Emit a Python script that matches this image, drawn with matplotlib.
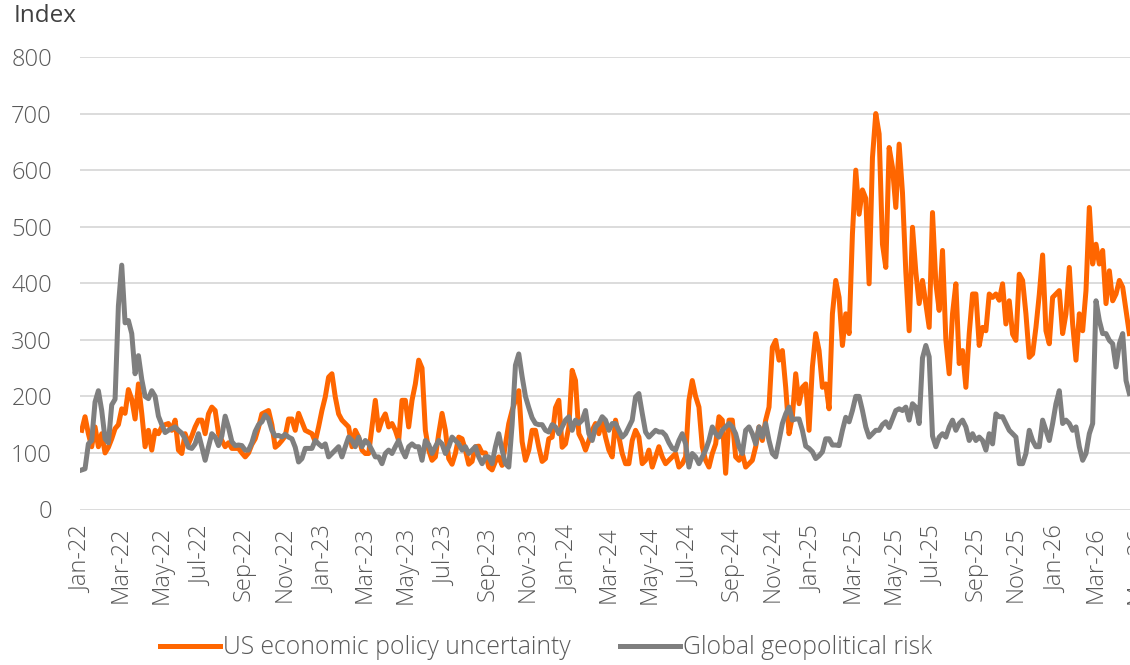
import matplotlib
matplotlib.use("Agg")
import matplotlib.pyplot as plt
import pandas as pd

# 5-day samples, 1 Jan 2022 onwards
EPU_A = [140, 164, 134, 111, 146, 111, 134, 100, 110, 125, 143, 150, 178, 170, 212, 195, 160,
         222, 170, 111, 140, 105, 140, 134, 146, 150, 152, 140, 158, 105, 99, 134, 116, 130]
EPU_B = [146, 158, 158, 134, 169, 181, 175, 135, 122, 111, 118, 108, 108, 108, 100, 93, 100, 115,
         125, 145, 169, 172, 175, 150, 110, 115, 122, 130, 160, 160, 140, 170, 155, 140, 137, 134]
EPU_C = [120, 146, 175, 199, 234, 240, 199, 169, 158, 152, 146, 111, 140, 128, 105, 99, 99, 146,
         193, 140, 158, 169, 146, 152, 140, 122, 193, 193, 146, 193, 222, 264, 250, 140, 105, 87]
EPU_D = [93, 134, 170, 140, 90, 80, 99, 128, 125, 105, 80, 85, 111, 112, 100, 100, 75, 70,
         85, 93, 78, 115, 152, 175, 193, 210, 120, 87, 105, 140, 140, 110, 85, 90, 125, 128]
EPU_E = [180, 193, 110, 116, 146, 246, 228, 134, 122, 105, 122, 140, 152, 134, 158, 128, 105, 93,
         158, 128, 99, 81, 81, 122, 140, 128, 81, 87, 105, 75, 93, 111, 93, 81, 87, 93]
EPU_F = [99, 75, 81, 93, 193, 228, 200, 181, 111, 87, 75, 99, 116, 164, 158, 64, 158, 158,
         93, 87, 99, 75, 81, 87, 111, 146, 122, 158, 181, 287, 299, 264, 281, 216, 134, 164]
EPU_G = [240, 187, 216, 222, 140, 252, 311, 281, 216, 222, 178, 346, 405, 375, 290, 346, 311,
         487, 600, 522, 565, 550, 399, 622, 700, 664, 469, 428, 640, 605, 534, 646, 560]
EPU_H = [420, 316, 499, 420, 364, 405, 364, 322, 525, 400, 352, 458, 300, 240, 346, 399, 258,
         281, 216, 311, 381, 381, 290, 322, 316, 381, 375, 381, 370, 399, 328, 369, 310]
EPU_I = [299, 416, 405, 346, 269, 275, 322, 380, 450, 316, 293, 375, 381, 387, 311, 346, 428,
         328, 264, 346, 316, 387, 534, 434, 469, 434, 458, 364, 422, 369, 381, 405, 393, 352, 311]

GPR_A = [70, 72, 116, 122, 190, 210, 175, 125, 118, 185, 195, 360, 432, 330, 334, 311, 240,
         272, 230, 200, 196, 210, 200, 165, 150, 136, 140, 143, 146, 140, 135, 125, 110, 108]
GPR_B = [116, 134, 111, 87, 111, 134, 128, 113, 130, 165, 145, 120, 113, 114, 113, 105, 105, 118,
         138, 150, 155, 167, 160, 140, 130, 131, 128, 133, 128, 125, 110, 84, 90, 108, 108, 108]
GPR_C = [122, 116, 111, 116, 93, 99, 105, 111, 93, 111, 128, 122, 111, 128, 111, 122, 116, 105,
         93, 93, 81, 99, 105, 99, 111, 122, 105, 93, 111, 116, 111, 111, 87, 122, 115, 99]
GPR_D = [111, 122, 116, 99, 111, 128, 122, 116, 105, 111, 99, 105, 111, 93, 81, 93, 93, 81,
         111, 134, 105, 81, 75, 150, 255, 275, 235, 200, 180, 162, 152, 150, 150, 140, 137, 150]
GPR_E = [146, 134, 146, 158, 164, 140, 158, 152, 158, 175, 134, 122, 146, 152, 164, 158, 140, 152,
         152, 140, 128, 134, 146, 158, 199, 205, 170, 137, 128, 134, 140, 137, 137, 131, 118, 108]
GPR_F = [105, 122, 134, 116, 75, 99, 93, 81, 93, 105, 122, 146, 134, 128, 140, 146, 152, 146,
         134, 111, 99, 140, 146, 134, 116, 146, 128, 152, 122, 99, 93, 122, 152, 169, 181, 158]
GPR_G = [160, 160, 140, 112, 108, 102, 90, 95, 102, 125, 125, 114, 114, 113, 140, 163, 155,
         175, 200, 200, 175, 146, 128, 134, 140, 140, 150, 155, 145, 160, 175, 178, 175]
GPR_H = [181, 158, 187, 181, 152, 268, 290, 270, 130, 111, 128, 134, 128, 146, 158, 140, 152,
         158, 146, 122, 134, 122, 128, 122, 105, 134, 116, 169, 164, 164, 152, 140, 134]
GPR_I = [128, 81, 81, 99, 140, 122, 111, 111, 158, 140, 122, 152, 187, 210, 152, 158, 152,
         140, 146, 111, 87, 99, 134, 152, 369, 334, 311, 311, 299, 293, 252, 293, 311, 228, 205]

SERIES_NAMES = ["US economic policy uncertainty", "Global geopolitical risk"]
Y_TICKS = [0, 100, 200, 300, 400, 500, 600, 700, 800]

ORANGE = "#ff6600"
GREY = "#7f7f7f"
TEXT = "#595959"

W, H = 1130, 665
PX_PER_DAY = 0.6673   # horizontal scale of the reference
X0_PX = 81.7          # pixel column of 1 Jan 2022


def main() -> None:
    epu = EPU_A + EPU_B + EPU_C + EPU_D + EPU_E + EPU_F + EPU_G + EPU_H + EPU_I
    gpr = GPR_A + GPR_B + GPR_C + GPR_D + GPR_E + GPR_F + GPR_G + GPR_H + GPR_I
    dates = pd.date_range("2022-01-01", periods=len(epu), freq="5D")

    plt.rcParams["font.family"] = ["Open Sans", "DejaVu Sans"]
    plt.rcParams["font.weight"] = "light"

    x_lo = pd.Timestamp("2021-12-29")
    x_hi = pd.Timestamp("2026-05-20")
    left_px = X0_PX + (x_lo - pd.Timestamp("2022-01-01")).days * PX_PER_DAY
    width_px = (x_hi - x_lo).days * PX_PER_DAY
    y_top, y_bot = 57.0, 509.5

    fig = plt.figure(figsize=(W / 100, H / 100), dpi=100)
    ax = fig.add_axes([left_px / W, (H - y_bot) / H, width_px / W, (y_bot - y_top) / H])

    ax.plot(dates, epu, color=ORANGE, lw=3.6, solid_joinstyle="round",
            label=SERIES_NAMES[0], zorder=3)
    ax.plot(dates, gpr, color=GREY, lw=3.6, solid_joinstyle="round",
            label=SERIES_NAMES[1], zorder=4)

    ax.set_xlim(x_lo, x_hi)
    ax.set_ylim(0, 800)
    ax.set_yticks(Y_TICKS)
    ticks = pd.date_range("2022-01-01", "2026-05-01", freq="2MS")
    ax.set_xticks(ticks)
    ax.set_xticklabels([t.strftime("%b-%y") for t in ticks], rotation=90,
                       va="top", ha="center")

    ax.grid(axis="y", color="#d9d9d9", lw=1.3)
    ax.set_axisbelow(True)
    for s in ax.spines.values():
        s.set_visible(False)
    ax.tick_params(axis="both", length=0, labelsize=17, labelcolor=TEXT)
    ax.tick_params(axis="y", pad=20)
    ax.tick_params(axis="x", pad=12)

    fig.text(14 / W, 1 - 16 / H, "Index", fontsize=17.5, color="#404040",
             fontweight="normal", ha="left", va="center")

    fig.legend(loc="center", bbox_to_anchor=(0.483, 0.026), ncol=2, frameon=False,
               fontsize=17.8, labelcolor=TEXT, handlelength=2.45, handletextpad=0.1,
               columnspacing=2.0, handleheight=0.5)

    fig.savefig("out.png", dpi=100)
    plt.close(fig)


if __name__ == "__main__":
    main()
